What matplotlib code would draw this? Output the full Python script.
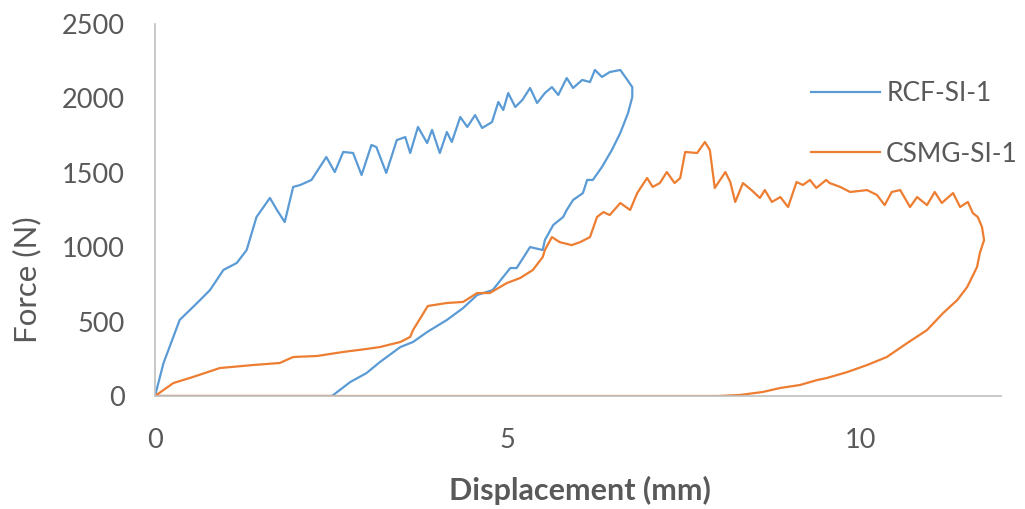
import matplotlib
matplotlib.use("Agg")
import matplotlib.pyplot as plt

# RCF-SI-1 (loading then unloading path)
rcf_x = [0, 0.12, 0.35, 0.64, 0.78, 0.97, 1.16, 1.30, 1.44, 1.63, 1.73, 1.84, 1.96, 2.06, 2.22,
         2.43, 2.55, 2.67, 2.81, 2.93, 3.07, 3.14, 3.28, 3.43, 3.55, 3.62, 3.73, 3.86, 3.93, 4.04,
         4.14, 4.21, 4.33, 4.43, 4.54, 4.64, 4.78, 4.87, 4.94, 5.01, 5.11, 5.21, 5.32, 5.42, 5.53,
         5.63, 5.72, 5.84, 5.93, 6.06, 6.17, 6.24, 6.34, 6.45, 6.60, 6.70, 6.77, 6.77,
         6.71, 6.60, 6.48, 6.34, 6.21, 6.13, 6.07, 5.93, 5.84, 5.79, 5.65, 5.53, 5.50, 5.32, 5.13,
         5.04, 4.79, 4.57, 4.37, 4.14, 3.86, 3.66, 3.48, 3.19, 3.00, 2.77, 2.51, 1.50, 0]
rcf_y = [0, 220, 511, 645, 712, 847, 894, 981, 1203, 1331, 1250, 1169, 1405, 1418, 1452,
         1606, 1505, 1640, 1633, 1485, 1687, 1673, 1499, 1720, 1740, 1633, 1808, 1700, 1788, 1633,
         1774, 1707, 1875, 1808, 1888, 1801, 1841, 1976, 1922, 2036, 1942, 1989, 2070, 1969, 2036,
         2076, 2023, 2137, 2070, 2124, 2110, 2191, 2144, 2177, 2191, 2124, 2076, 2009,
         1902, 1768, 1653, 1539, 1452, 1452, 1364, 1317, 1250, 1203, 1150, 1048, 981, 1001, 860,
         860, 712, 679, 591, 511, 430, 363, 329, 228, 154, 94, 0, 0, 0]

# CSMG-SI-1 (loading then unloading path)
csmg_x = [0, 0.12, 0.26, 0.54, 0.92, 1.39, 1.77, 1.96, 2.30, 2.67, 3.00, 3.19, 3.48, 3.62, 3.66,
          3.87, 4.14, 4.37, 4.57, 4.75, 4.99, 5.18, 5.36, 5.50, 5.53, 5.63, 5.74, 5.91, 6.03, 6.17,
          6.27, 6.36, 6.45, 6.60, 6.74, 6.84, 6.98, 7.06, 7.16, 7.26, 7.37, 7.45, 7.52, 7.69, 7.80,
          7.87, 7.94, 8.09, 8.16, 8.23, 8.34, 8.46, 8.58, 8.65, 8.75, 8.87, 8.98, 9.10, 9.19, 9.29,
          9.38, 9.52, 9.57, 9.72, 9.86, 10.10, 10.24, 10.35, 10.45, 10.57, 10.71, 10.81, 10.95,
          11.06, 11.16, 11.32, 11.42, 11.53, 11.60, 11.67, 11.73, 11.76, 11.70, 11.66, 11.52, 11.38,
          11.18, 10.95, 10.67, 10.38, 10.10, 9.82, 9.53, 9.39, 9.15, 8.87, 8.62, 8.30, 7.99, 4.00, 0]
csmg_y = [0, 40, 87, 128, 188, 208, 222, 262, 269, 296, 316, 329, 363, 397, 443,
          605, 625, 632, 692, 692, 759, 793, 847, 934, 981, 1068, 1034, 1014, 1034, 1068,
          1203, 1236, 1216, 1297, 1250, 1364, 1465, 1405, 1431, 1505, 1431, 1465, 1640, 1633, 1707,
          1653, 1398, 1505, 1438, 1304, 1431, 1384, 1331, 1384, 1304, 1337, 1270, 1438, 1418, 1452,
          1398, 1452, 1431, 1405, 1371, 1384, 1351, 1283, 1371, 1384, 1270, 1337, 1283,
          1371, 1297, 1364, 1270, 1304, 1230, 1203, 1136, 1048, 961, 867, 732, 645,
          558, 443, 356, 262, 208, 161, 121, 107, 74, 54, 27, 7, 0, 0, 0]

series_names = ["RCF-SI-1", "CSMG-SI-1"]
x_ticks = [0, 5, 10]
y_ticks = [0, 500, 1000, 1500, 2000, 2500]

plt.rcParams['font.family'] = ['Lato', 'DejaVu Sans']
text_color = "#595959"

fig = plt.figure(figsize=(10.25, 5.09), dpi=100)
ax = fig.add_axes([155/1025, 1 - 396/509, (1001 - 155)/1025, (396 - 24)/509])

l1, = ax.plot(rcf_x, rcf_y, color="#5B9BD5", lw=1.6, label=series_names[0], solid_joinstyle="round")
l2, = ax.plot(csmg_x, csmg_y, color="#ED7D31", lw=1.6, label=series_names[1], solid_joinstyle="round")

ax.set_xlim(0, 12)
ax.set_ylim(0, 2500)
ax.set_xticks(x_ticks)
ax.set_yticks(y_ticks)
ax.tick_params(axis='both', length=0, labelsize=19.5, labelcolor=text_color)
ax.tick_params(axis='y', pad=22)
ax.tick_params(axis='x', pad=23)

for s in ['top', 'right']:
    ax.spines[s].set_visible(False)
ax.spines['left'].set_color("#bfbfbf")
ax.spines['bottom'].set_color("#bfbfbf")
ax.spines['left'].set_linewidth(1.2)
ax.spines['bottom'].set_linewidth(1.2)

fig.text(580/1025, 1 - 490/509, "Displacement (mm)", ha='center', va='center',
         fontsize=22, fontweight='bold', color=text_color)
fig.text(27/1025, 1 - 280/509, "Force (N)", ha='center', va='center', rotation=90,
         fontsize=22.5, color=text_color)

leg = ax.legend(handles=[l1, l2], loc='upper left', bbox_to_anchor=(811/1025, 1 - 81/509),
                bbox_transform=fig.transFigure, frameon=False, fontsize=19,
                labelcolor=text_color, handlelength=2.6, handletextpad=0.25, labelspacing=1.35,
                borderpad=0, borderaxespad=0)

fig.savefig("out.png", dpi=100, facecolor="white")
